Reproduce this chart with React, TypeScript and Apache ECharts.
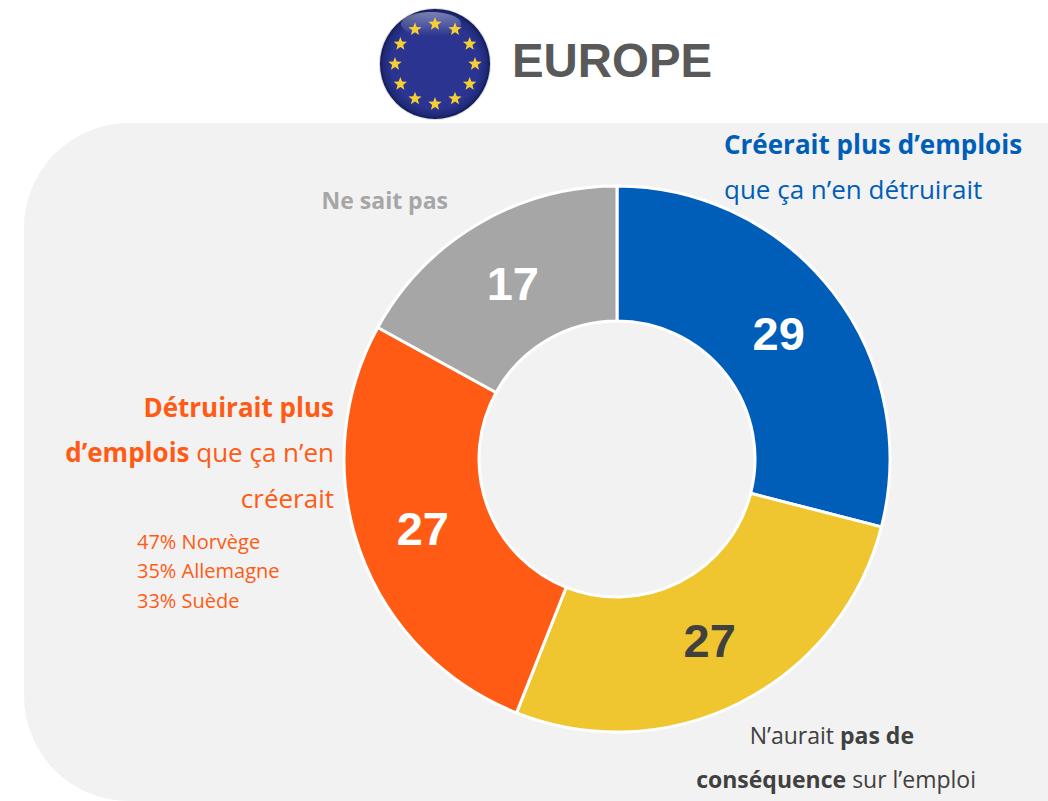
import React, { useEffect, useRef } from "react";
import * as echarts from "echarts";

const categories = ["Créerait plus d’emplois", "N’aurait pas de conséquence", "Détruirait plus d’emplois", "Ne sait pas"];
const values = [29, 27, 27, 17];
const sliceColors = ["#005EB8", "#EFC62F", "#FF5B14", "#A6A6A6"];
const valueColors = ["#FFFFFF", "#404040", "#FFFFFF", "#FFFFFF"];
const labelOffsets = [[-3, 2], [-2, -4], [2, -1], [2, 4]];
const countries = ["47% Norvège", "35% Allemagne", "33% Suède"];
const title = "EUROPE";
const SANS = "'Open Sans'";
const ARIAL = "'Liberation Sans'";

function starPoints(cx: number, cy: number, R: number) {
  const pts: number[][] = [];
  for (let i = 0; i < 10; i++) {
    const r = i % 2 === 0 ? R : R * 0.42;
    const a = (-90 + i * 36) * (Math.PI / 180);
    pts.push([cx + r * Math.cos(a), cy + r * Math.sin(a)]);
  }
  return pts;
}

function richText(x: number, y: number, text: string, color: string, size: number, align: string, z = 20) {
  return {
    type: "text", x, y, z,
    style: {
      text, align, verticalAlign: "middle", fill: color,
      font: `${size}px ${SANS}`,
      rich: {
        b: { fontFamily: SANS, fontSize: size, fontWeight: "bold", fill: color, color },
        r: { fontFamily: SANS, fontSize: size, fontWeight: "normal", fill: color, color },
      },
    },
  };
}

export default function App() {
  const ref = useRef<HTMLDivElement>(null);
  useEffect(() => {
    const chart = echarts.init(ref.current!, undefined, { renderer: "svg" });
    const fcx = 435, fcy = 64;
    const stars = Array.from({ length: 12 }, (_, i) => {
      const a = (i * 30) * (Math.PI / 180);
      return {
        type: "polygon", z: 12,
        shape: { points: starPoints(fcx + 40 * Math.sin(a), fcy - 40 * Math.cos(a), 7) },
        style: { fill: "#F6CF33" },
      };
    });
    chart.setOption({
      animation: false,
      backgroundColor: "#FFFFFF",
      graphic: [
        { type: "rect", z: -1, shape: { x: 24, y: 123, width: 1124, height: 678, r: [105, 0, 0, 105] }, style: { fill: "#F2F2F2" } },
        { type: "circle", z: 10, shape: { cx: fcx, cy: fcy, r: 56 }, style: { fill: "#D5D7E3" } },
        {
          type: "circle", z: 11, shape: { cx: fcx, cy: fcy, r: 55 },
          style: {
            fill: {
              type: "radial", x: 0.5, y: 0.5, r: 0.5,
              colorStops: [
                { offset: 0, color: "#2B3490" },
                { offset: 0.8, color: "#2B3490" },
                { offset: 0.94, color: "#1F2A78" },
                { offset: 1, color: "#121A52" },
              ],
            },
          },
        },
        {
          type: "ellipse", z: 11, shape: { cx: fcx - 4, cy: fcy - 40, rx: 30, ry: 12 },
          style: {
            fill: {
              type: "linear", x: 0, y: 0, x2: 0, y2: 1,
              colorStops: [
                { offset: 0, color: "rgba(255,255,255,0.4)" },
                { offset: 1, color: "rgba(255,255,255,0)" },
              ],
            },
          },
        },
        ...stars,
        { type: "text", x: 512, y: 60, z: 20, style: { text: title, font: `bold 47.4px ${ARIAL}`, fill: "#595959", align: "left", verticalAlign: "middle" } },
        richText(724, 144, "{b|Créerait plus d’emplois}", "#005EB8", 26, "left"),
        richText(724, 189, "{r|que ça n’en détruirait}", "#005EB8", 26, "left"),
        richText(448, 200, "{b|Ne sait pas}", "#A6A6A6", 23, "right"),
        richText(334, 407, "{b|Détruirait plus}", "#FF5B14", 26, "right"),
        richText(334, 452, "{b|d’emplois} {r|que ça n’en}", "#FF5B14", 26, "right"),
        richText(334, 498, "{r|créerait}", "#FF5B14", 26, "right"),
        ...countries.map((c, i) => ({
          type: "text", x: 137, y: 541 + i * 29.5, z: 20,
          style: { text: c, font: `20px ${SANS}`, fill: "#FF5B14", align: "left", verticalAlign: "middle" },
        })),
        richText(914, 735, "{r|N’aurait }{b|pas de}", "#404040", 23, "right"),
        richText(976, 779, "{b|conséquence} {r|sur l’emploi}", "#404040", 23, "right"),
      ],
      series: [
        {
          type: "pie",
          center: [617, 459],
          radius: [138, 273],
          startAngle: 90,
          clockwise: true,
          silent: true,
          itemStyle: { borderColor: "#FFFFFF", borderWidth: 3 },
          labelLine: { show: false },
          label: {
            show: true, position: "inside", formatter: "{c}",
            fontFamily: ARIAL, fontWeight: "bold", fontSize: 47,
          },
          data: categories.map((name, i) => ({
            name, value: values[i],
            itemStyle: { color: sliceColors[i] },
            label: { color: valueColors[i], offset: labelOffsets[i] },
          })),
        },
      ],
    });
    return () => chart.dispose();
  }, []);
  return <div ref={ref} style={{ position: "absolute", left: 0, top: 0, width: 1048, height: 801 }} />;
}
